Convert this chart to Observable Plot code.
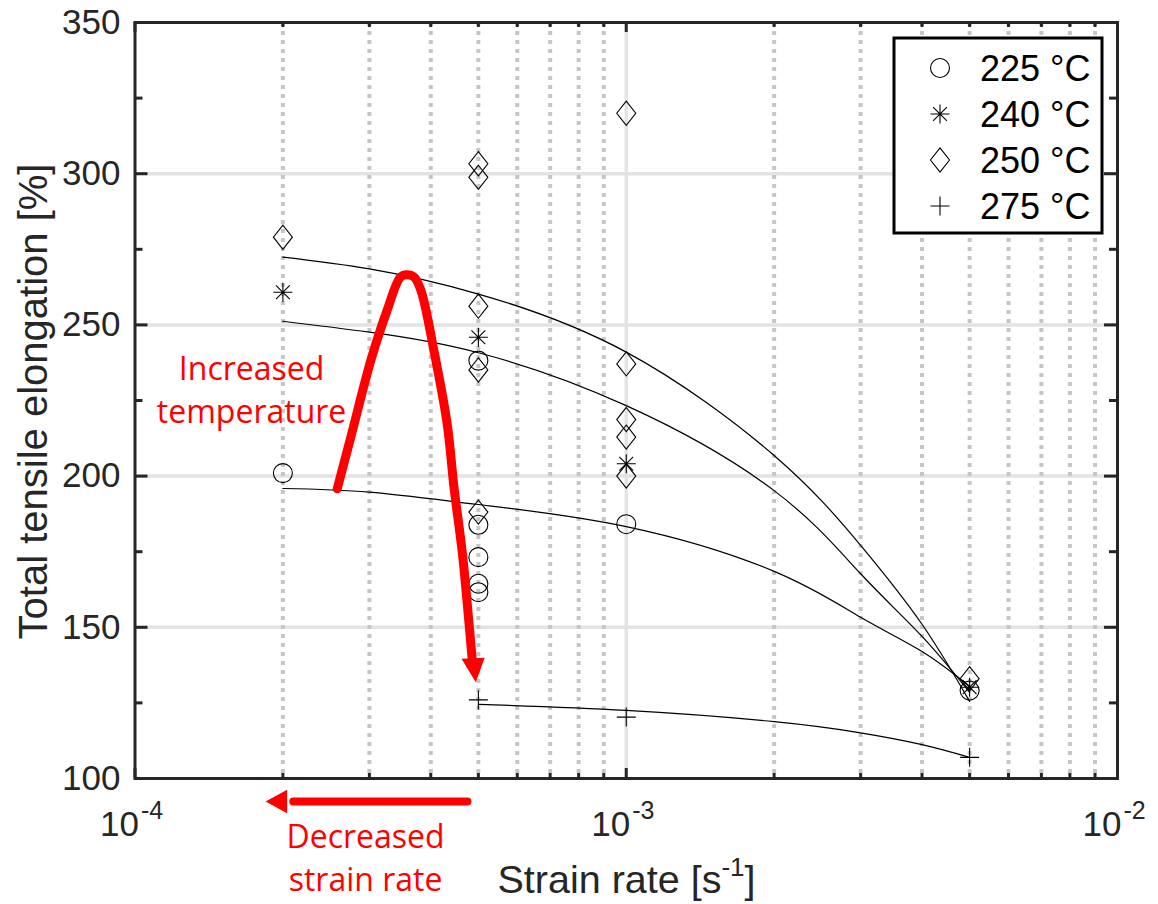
<!DOCTYPE html>
<html><head><meta charset="utf-8">
<script src="https://cdn.jsdelivr.net/npm/d3@7"></script>
<script src="https://cdn.jsdelivr.net/npm/@observablehq/plot@0.6"></script>
<style>body{margin:0;background:#fff}</style>
</head><body><div id="chart"></div>
<script>
// ---- tick / axis data ----
const xMajor = [1e-4, 1e-3, 1e-2];
const xMajorExp = ["-4", "-3", "-2"];
const xMinor = [2e-4,3e-4,4e-4,5e-4,6e-4,7e-4,8e-4,9e-4,2e-3,3e-3,4e-3,5e-3,6e-3,7e-3,8e-3,9e-3];
const yTicks = [100,150,200,250,300,350];
const yMinor = [125,175,225,275,325];
const yGrid = [150,200,250,300];
const legendLabels = ["225 °C","240 °C","250 °C","275 °C"];

// ---- measured points ----
const rate225  = [2e-4, 5e-4, 5e-4, 5e-4, 5e-4, 5e-4, 1e-3, 5e-3];
const elong225 = [201, 238.2, 183.9, 173.2, 164.4, 161.6, 184.1, 129.1];
const rate240  = [2e-4, 5e-4, 1e-3, 5e-3];
const elong240 = [260.8, 245.9, 204.1, 130.2];
const rate250  = [2e-4, 5e-4, 5e-4, 5e-4, 5e-4, 5e-4, 1e-3, 1e-3, 1e-3, 1e-3, 1e-3, 5e-3];
const elong250 = [279, 303.3, 298.8, 256.2, 235.1, 188.1, 320, 237.1, 218.7, 212.9, 200, 133];
const rate275  = [5e-4, 1e-3, 5e-3];
const elong275 = [126, 120.3, 107];

// ---- fitted curves ----
const fitRate = [2e-4, 3e-4, 5e-4, 1e-3, 2e-3, 3e-3, 4e-3, 5e-3];
const fit225 = [195.9, 194.7, 190.6, 183.3, 168.5, 153.3, 142, 130.5];
const fit240 = [251.2, 247.6, 240.8, 223.3, 195.2, 167.7, 147, 128.5];
const fit250 = [272.4, 268.5, 260.2, 241, 206.8, 177.1, 151, 125.5];
const fitRate275 = [5e-4, 1e-3, 2e-3, 3e-3, 4e-3, 5e-3];
const fit275 = [124.5, 122.5, 118.8, 115.1, 111.2, 107];

// ---- red annotations (data units) ----
const arcRate  = [2.58e-4, 2.75e-4, 3.02e-4, 3.26e-4, 3.47e-4, 3.57e-4, 3.70e-4, 3.82e-4, 4.06e-4, 4.32e-4, 4.46e-4, 4.64e-4, 4.78e-4, 4.86e-4];
const arcElong = [195.8, 212.9, 238.2, 254.8, 265.8, 266.6, 265.8, 261.4, 241.5, 217.3, 196.3, 174.3, 152.2, 139];
const headRate  = [4.62e-4, 5.15e-4, 4.94e-4];
const headElong = [139.6, 139.9, 131.8];
const shaftRate  = [4.75e-4, 2.1e-4];
const shaftElong = [92.4, 92.4];
const head2Rate  = [2.04e-4, 2.04e-4, 1.844e-4];
const head2Elong = [96.3, 88.5, 92.4];
const noteText = ["Increased\ntemperature", "Decreased\nstrain rate"];
const noteRate = [1.727e-4, 2.947e-4];
const noteElong = [242.0, 87.3];

// ---- symbols ----
const rad = s => Math.sqrt(s / Math.PI);
const symCircle = {draw(c, s){ const r = rad(s); c.moveTo(r,0); c.arc(0,0,r,0,2*Math.PI); c.closePath(); }};
const symDiamond = {draw(c, s){ const r = rad(s), h = r*1.27; c.moveTo(0,-h); c.lineTo(r,0); c.lineTo(0,h); c.lineTo(-r,0); c.closePath(); }};
const symStar = {draw(c, s){ const r = rad(s), d = r*0.73; c.moveTo(-r,0); c.lineTo(r,0); c.moveTo(0,-r); c.lineTo(0,r); c.moveTo(-d,-d); c.lineTo(d,d); c.moveTo(-d,d); c.lineTo(d,-d); }};
const symPlus = {draw(c, s){ const r = rad(s); c.moveTo(-r,0); c.lineTo(r,0); c.moveTo(0,-r); c.lineTo(0,r); }};
const symbols = [symCircle, symStar, symDiamond, symPlus];

const pts = (xs, ys) => xs.map((x, i) => ({x, y: ys[i]}));
const series = [
  {pts: pts(rate225, elong225), fit: pts(fitRate, fit225)},
  {pts: pts(rate240, elong240), fit: pts(fitRate, fit240)},
  {pts: pts(rate250, elong250), fit: pts(fitRate, fit250)},
  {pts: pts(rate275, elong275), fit: pts(fitRate275, fit275)}
];

const W = 1158, H = 904, mL = 134.5, mR = 41, mT = 22, mB = 126;
const fW = W - mL - mR, fH = H - mT - mB;
const ink = "#262626";
const font = "'Liberation Sans', Arial, sans-serif";
const R = 9.5;

const marks = [
  Plot.ruleY(yGrid, {y: d => d, stroke: "#e3e3e3", strokeWidth: 3.5}),
  Plot.ruleX([1e-3], {x: d => d, stroke: "#e3e3e3", strokeWidth: 3.5}),
  Plot.ruleX(xMinor, {x: d => d, stroke: "#c6c6c6", strokeWidth: 4, strokeDasharray: "4,5"}),
];
series.forEach((s, i) => {
  marks.push(Plot.line(s.fit, {x: "x", y: "y", stroke: "#000", strokeWidth: 1.2, curve: "natural"}));
});
series.forEach((s, i) => {
  marks.push(Plot.dot(s.pts, {x: "x", y: "y", r: R, symbol: symbols[i], stroke: "#000", strokeWidth: 1.1, fill: "none"}));
});
marks.push(
  Plot.line(pts(arcRate, arcElong), {x: "x", y: "y", stroke: "red", strokeWidth: 9, curve: "catmull-rom"}),
  Plot.line(pts(headRate, headElong), {x: "x", y: "y", fill: "red", stroke: "none"}),
  Plot.line(pts(shaftRate, shaftElong), {x: "x", y: "y", stroke: "red", strokeWidth: 8}),
  Plot.line(pts(head2Rate, head2Elong), {x: "x", y: "y", fill: "red", stroke: "none"}),
  Plot.text(noteText.map((t, i) => ({t, x: noteRate[i], y: noteElong[i]})), {x: "x", y: "y", text: "t", fill: "red", fontFamily: "'Open Sans', sans-serif", fontSize: 32, lineAnchor: "top", lineHeight: 1.36, textAnchor: "middle"}),
  Plot.frame({stroke: ink, strokeWidth: 3}),
  // ticks
  Plot.tickY(yTicks, {y: d => d, insetRight: fW - 13, stroke: ink, strokeWidth: 3}),
  Plot.tickY(yMinor, {y: d => d, insetRight: fW - 8, stroke: ink, strokeWidth: 3}),
  Plot.tickY(yTicks, {y: d => d, insetLeft: fW - 13, stroke: ink, strokeWidth: 3}),
  Plot.tickY(yMinor, {y: d => d, insetLeft: fW - 8, stroke: ink, strokeWidth: 3}),
  Plot.tickX(xMajor, {x: d => d, insetTop: fH - 10, stroke: ink, strokeWidth: 3}),
  Plot.tickX(xMinor, {x: d => d, insetTop: fH - 5, stroke: ink, strokeWidth: 3}),
  Plot.tickX(xMajor, {x: d => d, insetBottom: fH - 10, stroke: ink, strokeWidth: 3}),
  Plot.tickX(xMinor, {x: d => d, insetBottom: fH - 5, stroke: ink, strokeWidth: 3}),
  // tick labels
  Plot.text(yTicks, {y: d => d, frameAnchor: "left", dx: -14.5, textAnchor: "end", text: d => String(d), fontSize: 35, fill: ink}),
  Plot.text(xMajor, {x: d => d, frameAnchor: "bottom", dx: 4, dy: 57, textAnchor: "end", lineAnchor: "bottom", text: () => "10", fontSize: 35, fill: ink}),
  Plot.text(xMajor.map((v, i) => ({v, e: xMajorExp[i]})), {x: "v", frameAnchor: "bottom", dx: 6, dy: 40, textAnchor: "start", lineAnchor: "bottom", text: "e", fontSize: 25, fill: ink})
);

const plot = Plot.plot({
  width: W, height: H,
  marginLeft: mL, marginRight: mR, marginTop: mT, marginBottom: mB,
  x: {type: "log", domain: [1e-4, 1e-2], axis: null},
  y: {domain: [100, 350], axis: null},
  style: {fontFamily: font, fontSize: "35px", color: ink, background: "white", overflow: "visible"},
  marks
});
document.getElementById("chart").appendChild(plot);

const svg = d3.select(plot);
// axis labels
const xl = svg.append("text").attr("x", 626.5).attr("y", 892.7).attr("text-anchor", "middle")
  .attr("font-family", font).attr("font-size", 39.5).attr("fill", ink);
xl.append("tspan").text("Strain rate [s");
xl.append("tspan").attr("font-size", 26).attr("dy", -17).text("-1");
xl.append("tspan").attr("dy", 17).text("]");
svg.append("text").attr("transform", "translate(47,401.5) rotate(-90)").attr("text-anchor", "middle")
  .attr("font-family", font).attr("font-size", 40).attr("fill", ink).text("Total tensile elongation [%]");

// legend
const lg = svg.append("g");
lg.append("rect").attr("x", 894).attr("y", 38).attr("width", 208).attr("height", 195)
  .attr("fill", "white").attr("stroke", "#000").attr("stroke-width", 3);
const rowY = [68, 114, 160, 206];
legendLabels.forEach((lab, i) => {
  lg.append("path").attr("transform", `translate(940,${rowY[i]})`)
    .attr("d", d3.symbol().type(symbols[i]).size(R * R * Math.PI)())
    .attr("fill", "none").attr("stroke", "#000").attr("stroke-width", 1.1);
  lg.append("text").attr("x", 980).attr("y", rowY[i] + 12.5).attr("text-anchor", "start")
    .attr("font-family", font).attr("font-size", 36).attr("fill", "#000").text(lab);
});
</script>
</body></html>
